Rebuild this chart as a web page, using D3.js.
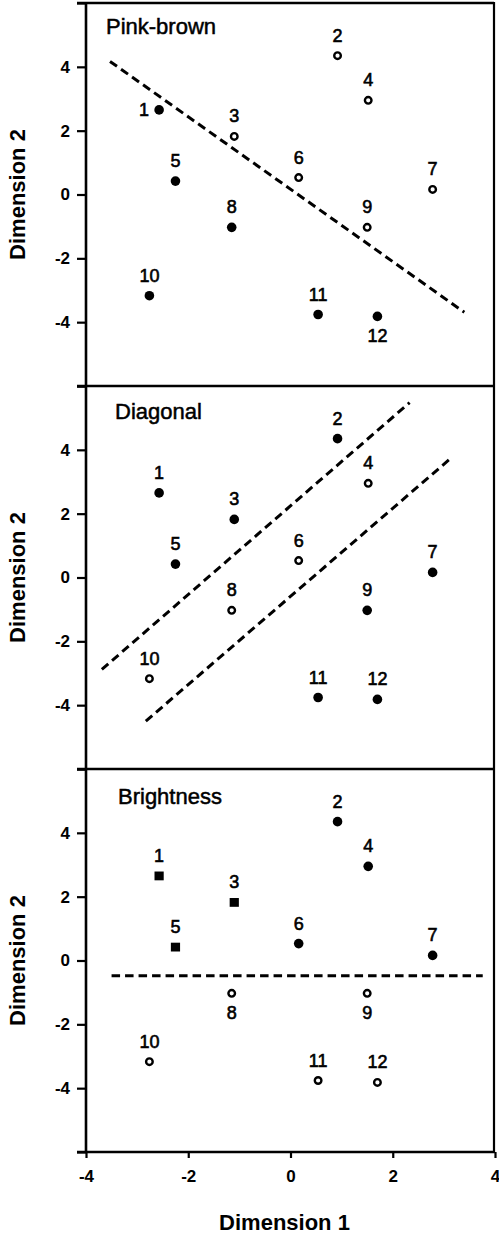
<!DOCTYPE html>
<html>
<head>
<meta charset="utf-8">
<script src="https://cdn.jsdelivr.net/npm/d3@7"></script>
<style>
  html, body { margin: 0; padding: 0; background: #fff; }
  svg { display: block; }
  text { font-family: "Liberation Sans", Arial, Helvetica, sans-serif; fill: #000; }
</style>
</head>
<body>
<svg id="chart" width="499" height="1234"></svg>
<script>
// Twelve stimuli placed in a two-dimensional scaling solution
const stimulusIds = [1, 2, 3, 4, 5, 6, 7, 8, 9, 10, 11, 12];
const dimension1 = [-2.57, 0.92, -1.10, 1.52, -2.25, 0.16, 2.78, -1.15, 1.50, -2.76, 0.54, 1.70];
const dimension2 = [2.65, 4.35, 1.82, 2.95, 0.42, 0.53, 0.16, -1.03, -1.03, -3.17, -3.76, -3.82];

// Classification of each stimulus in the three partitions
const pinkBrownClass  = ["filled", "open", "open", "open", "filled", "open", "open", "filled", "open", "filled", "filled", "filled"];
const diagonalClass   = ["filled", "filled", "filled", "open", "filled", "open", "filled", "open", "filled", "open", "filled", "filled"];
const brightnessClass = ["square", "filled", "square", "filled", "square", "filled", "filled", "open", "open", "open", "open", "open"];

// Dashed boundaries, as end points in (dimension 1, dimension 2)
const pinkBrownBoundaries  = [[[-3.53, 4.17], [3.40, -3.69]]];
const diagonalBoundaries   = [[[-3.69, -2.88], [2.33, 5.48]], [[-2.83, -4.50], [3.16, 3.77]]];
const brightnessBoundaries = [[[-3.50, -0.48], [3.76, -0.48]]];

// Axis ticks
const xTicks = [-4, -2, 0, 2, 4];
const yTicks = [-6, -4, -2, 0, 2, 4, 6];

// Panel titles
const panelTitles = ["Pink-brown", "Diagonal", "Brightness"];

// Where each number label sits relative to its marker (default: above)
const labelSide = [
  { 1: "left", 12: "below" },
  {},
  { 8: "below", 9: "below" }
];

const panels = [
  { title: panelTitles[0], classes: pinkBrownClass,  lines: pinkBrownBoundaries,  titleX: 106, titleDy: 31 },
  { title: panelTitles[1], classes: diagonalClass,   lines: diagonalBoundaries,   titleX: 115, titleDy: 33 },
  { title: panelTitles[2], classes: brightnessClass, lines: brightnessBoundaries, titleX: 118, titleDy: 35 }
];

const svg = d3.select("#chart");
const left = 86, right = 495;
const firstTop = 3, panelH = 383;
const bottom = firstTop + panelH * panels.length;

const x = d3.scaleLinear().domain([-4, 4]).range([left, right]);

const points = stimulusIds.map((id, i) => ({ id, d1: dimension1[i], d2: dimension2[i], i }));

// medium-weight text: regular glyphs with a thin outline
function medium(sel, w) {
  return sel.attr("stroke", "#000").attr("stroke-width", w).attr("paint-order", "stroke");
}

panels.forEach((panel, p) => {
  const top = firstTop + p * panelH;
  const y = d3.scaleLinear().domain([-6, 6]).range([top + panelH, top]);
  const g = svg.append("g");

  // left axis ticks and labels
  const yAxis = d3.axisLeft(y)
    .tickValues(yTicks)
    .tickSize(9)
    .tickPadding(7)
    .tickFormat(d => Math.abs(d) === 6 ? "" : String(d));
  const ya = g.append("g").attr("transform", `translate(${left},0)`).call(yAxis);
  ya.select(".domain").remove();
  ya.selectAll(".tick line").attr("stroke", "#000").attr("stroke-width", 2.2);
  ya.selectAll(".tick text")
    .style("font-size", "17px").style("font-weight", "bold")
    .attr("fill", "#000");

  // top border of the panel
  g.append("line")
    .attr("x1", left - 9).attr("x2", right - 1)
    .attr("y1", y(6)).attr("y2", y(6))
    .attr("stroke", "#000").attr("stroke-width", 2.6);

  // panel title
  medium(g.append("text")
    .attr("x", panel.titleX).attr("y", top + panel.titleDy)
    .style("font-size", "22px")
    .text(panel.title), 0.5);

  // y-axis title
  g.append("text")
    .attr("transform", `translate(25,${y(0)}) rotate(-90)`)
    .attr("text-anchor", "middle")
    .style("font-size", "22px").style("font-weight", "bold")
    .text("Dimension 2");

  // dashed boundaries
  const line = d3.line().x(d => x(d[0])).y(d => y(d[1]));
  g.selectAll("path.boundary")
    .data(panel.lines)
    .join("path")
    .attr("class", "boundary")
    .attr("d", line)
    .attr("fill", "none")
    .attr("stroke", "#000")
    .attr("stroke-width", 3)
    .attr("stroke-dasharray", "8.5,5");

  // markers
  const mk = g.selectAll("g.pt").data(points).join("g").attr("class", "pt")
    .attr("transform", d => `translate(${x(d.d1)},${y(d.d2)})`);
  mk.each(function (d) {
    const s = d3.select(this);
    const c = panel.classes[d.i];
    if (c === "filled") {
      s.append("circle").attr("r", 4.8).attr("fill", "#000");
    } else if (c === "open") {
      s.append("circle").attr("r", 3.3).attr("fill", "#fff")
        .attr("stroke", "#000").attr("stroke-width", 2.4);
    } else {
      s.append("rect").attr("x", -4.6).attr("y", -4.4)
        .attr("width", 9.2).attr("height", 8.8).attr("fill", "#000");
    }
  });

  // number labels
  medium(g.selectAll("text.num").data(points).join("text")
    .attr("class", "num")
    .style("font-size", "18px")
    .each(function (d) {
      const side = labelSide[p][d.id] || "above";
      const t = d3.select(this);
      const px = x(d.d1), py = y(d.d2);
      if (side === "left") {
        t.attr("x", px - 10).attr("y", py + 6).attr("text-anchor", "end");
      } else if (side === "below") {
        t.attr("x", px).attr("y", py + 26).attr("text-anchor", "middle");
      } else {
        t.attr("x", px).attr("y", py - 14).attr("text-anchor", "middle");
      }
    })
    .text(d => d.id), 0.6);
});

// left axis line and right frame
svg.append("line")
  .attr("x1", left).attr("x2", left)
  .attr("y1", firstTop - 1).attr("y2", bottom + 1)
  .attr("stroke", "#000").attr("stroke-width", 2.6);
svg.append("line")
  .attr("x1", right - 1).attr("x2", right - 1)
  .attr("y1", firstTop - 1).attr("y2", bottom)
  .attr("stroke", "#000").attr("stroke-width", 2.2);

// bottom axis
const xAxis = d3.axisBottom(x).tickValues(xTicks).tickSize(6).tickPadding(12)
  .tickFormat(d => String(d));
const xa = svg.append("g").attr("transform", `translate(0,${bottom})`).call(xAxis);
xa.select(".domain").remove();
xa.selectAll(".tick line").attr("stroke", "#000").attr("stroke-width", 2.2);
xa.selectAll(".tick text")
  .style("font-size", "17px").style("font-weight", "bold")
  .attr("fill", "#000");
svg.append("line")
  .attr("x1", left - 9).attr("x2", right)
  .attr("y1", bottom).attr("y2", bottom)
  .attr("stroke", "#000").attr("stroke-width", 2.6);

// x-axis title
svg.append("text")
  .attr("x", (left + right) / 2 - 6).attr("y", 1230)
  .attr("text-anchor", "middle")
  .style("font-size", "22px").style("font-weight", "bold")
  .text("Dimension 1");
</script>
</body>
</html>
